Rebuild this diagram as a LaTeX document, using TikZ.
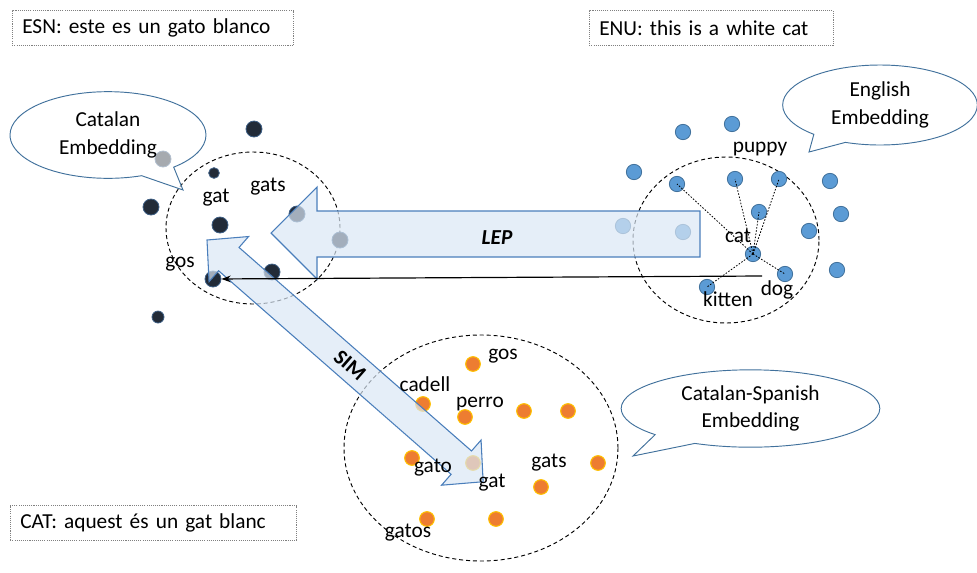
\documentclass[tikz,border=0pt]{standalone}
\usepackage{fontspec}
\setmainfont{Carlito}
\usetikzlibrary{shapes.geometric,shapes.callouts,arrows.meta}
\definecolor{navydot}{HTML}{222B38}
\definecolor{navyrim}{HTML}{3E5F85}
\definecolor{engdot}{HTML}{5B9BD5}
\definecolor{engrim}{HTML}{41719C}
\definecolor{cesdot}{HTML}{ED7D31}
\definecolor{cesrim}{HTML}{FFC000}
\definecolor{arrowfill}{HTML}{DAE7F5}
\definecolor{arrowline}{HTML}{4A7EBB}

\begin{document}
\begin{tikzpicture}[x=0.75pt,y=-0.75pt,
  font=\fontsize{16}{20.5}\selectfont,
  sentbox/.style={draw=gray, dash pattern=on 0.8pt off 0.8pt, inner xsep=7.5pt, minimum height=26pt, align=left, anchor=west},
  ring/.style={ellipse, draw, dash pattern=on 3pt off 2.2pt, line width=0.7pt, inner sep=0},
  bubble/.style={ellipse callout, draw=engrim, line width=0.7pt, fill=white, fill opacity=0.6, text opacity=1, align=center, callout pointer arc=22},
  catdot/.style={circle, fill=navydot, draw=navyrim, line width=0.6pt, minimum size=12pt, inner sep=0},
  smalldot/.style={catdot, minimum size=8pt},
  engdot/.style={circle, fill=engdot, draw=engrim, line width=0.6pt, minimum size=11.5pt, inner sep=0},
  cesdot/.style={circle, fill=cesdot, draw=cesrim, line width=0.8pt, minimum size=11pt, inner sep=0},
  blockarrow/.style={fill=arrowfill, fill opacity=0.7, draw=arrowline, line width=0.8pt},
  word/.style={inner sep=0}]
\useasboundingbox (0,0) rectangle (977,572);

\node[sentbox, text width=196pt] (esn) at (12,28) {ESN: este es un gato blanco};
\node[sentbox, text width=168pt] (enu) at (589,28) {ENU: this is a white cat};
\node[sentbox, text width=199.5pt] (cat) at (10,523) {CAT: aquest és un gat blanc};

\node[ring, minimum width=130.5pt, minimum height=114pt] (catring) at (253,228) {};
\node[ring, minimum width=139.5pt, minimum height=124.5pt] (engring) at (726,240) {};
\node[ring, minimum width=205.5pt, minimum height=169.5pt] (cesring) at (481,448) {};

\node[catdot] (cd1) at (254,129) {};
\node[smalldot] (cd2) at (214,173) {};
\node[catdot] (cd3) at (151,207) {};
\node[catdot] (cgat) at (220,225) {};
\node[catdot] (cgats) at (297,214) {};
\node[catdot] (cd4) at (272,272) {};
\node[catdot] (cgos) at (213,279) {};
\node[smalldot, minimum size=9pt] (cd5) at (158,317) {};
\node[catdot] (cd6) at (163,159) {};
\node[catdot] (cd7) at (340,240) {};

\node[engdot] (e1) at (683,132) {};
\node[engdot] (e2) at (732,124) {};
\node[engdot] (e3) at (634,172) {};
\node[engdot] (ea) at (677,184) {};
\node[engdot] (epuppy) at (735,179) {};
\node[engdot] (ec) at (779,179) {};
\node[engdot] (e4) at (830,181) {};
\node[engdot] (ed) at (759,212) {};
\node[engdot] (e5) at (841,214) {};
\node[engdot] (e6) at (809,231) {};
\node[engdot] (ecat) at (753,254) {};
\node[engdot] (edog) at (785,274) {};
\node[engdot] (e7) at (837,270) {};
\node[engdot] (ekitten) at (707,287) {};
\node[engdot] (e8) at (623,226) {};
\node[engdot] (e9) at (683,232) {};

\node[cesdot] (s1) at (473,364) {};
\node[cesdot] (scadell) at (423,404) {};
\node[cesdot] (sperro) at (465,417) {};
\node[cesdot] (s4) at (524,411) {};
\node[cesdot] (s5) at (568,411) {};
\node[cesdot] (sgato) at (412,458) {};
\node[cesdot] (sgat) at (473,463) {};
\node[cesdot] (s7) at (598,463) {};
\node[cesdot] (sgats) at (541,487) {};
\node[cesdot] (sgatos) at (427,519) {};
\node[cesdot] (s10) at (496,519) {};

\node[bubble, minimum width=147pt, minimum height=65pt, callout absolute pointer={(183,190)}] (catbubble) at (108,135) {Catalan\\Embedding};
\node[bubble, minimum width=146pt, minimum height=60pt, callout absolute pointer={(809,152)}] (engbubble) at (880,105) {English\\Embedding};
\node[bubble, minimum width=194pt, minimum height=53pt, callout absolute pointer={(633,456)}] (cesbubble) at (750.5,408.5) {Catalan-Spanish\\Embedding};

\draw[blockarrow] (700,211) -- (317,211) -- (317,187) -- (271,233) -- (317,279) -- (317,257) -- (700,257) -- cycle;
\node[font=\fontsize{16}{20}\selectfont\bfseries\itshape] (lep) at (497,238) {LEP};

\begin{scope}[shift={(207,240)}, rotate=-41.2]
\draw[blockarrow] (0,0) -- (29,-30) -- (29,-15.5) -- (338,-15.5) -- (338,-30) -- (367,0) -- (338,30) -- (338,15.5) -- (29,15.5) -- (29,30) -- cycle;
\node[font=\fontsize{16}{20}\selectfont\bfseries, rotate=-41.2, inner sep=0] (sim) at (190,0) {SIM};
\end{scope}

\node[word] at (216,198) {gat};
\node[word] at (268,187) {gats};
\node[word] at (180,264) {gos};

\node[word] at (760,149) {puppy};
\node[word] at (738,236) {cat};
\node[word] at (777,290) {dog};
\node[word] at (728,299) {kitten};

\node[word] at (503,356) {gos};
\node[word] at (425,384) {cadell};
\node[word] at (480,404) {perro};
\node[word] at (433,468) {gato};
\node[word] at (492,483) {gat};
\node[word] at (549,463) {gats};
\node[word] at (408,533) {gatos};

\foreach \n in {ea,epuppy,ec,ed,edog,ekitten}
  \draw[dash pattern=on 1.2pt off 1.2pt, line width=0.6pt] (ecat.center) -- (\n.center);

\coordinate (lepfrom) at (762,276);
\draw[line width=0.9pt, -{Stealth[length=7pt,width=5pt]}] (lepfrom) -- (cgos);
\end{tikzpicture}
\end{document}
